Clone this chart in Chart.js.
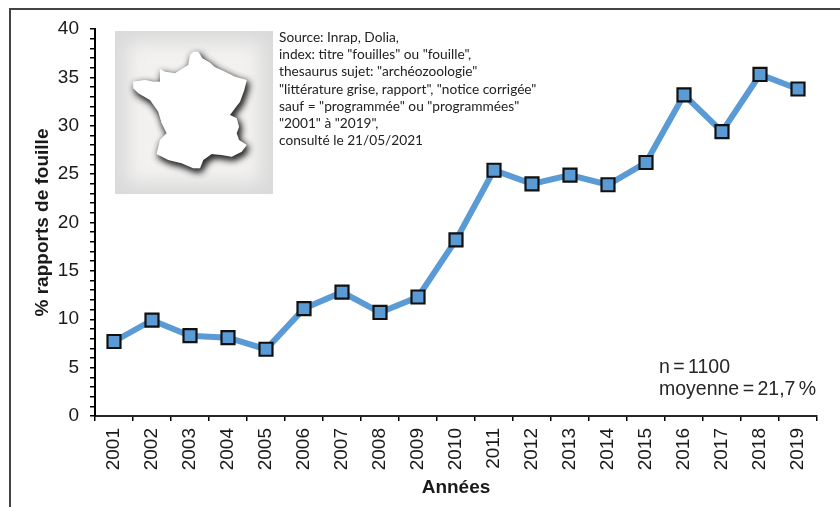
<!DOCTYPE html>
<html>
<head>
<meta charset="utf-8">
<script src="https://cdn.jsdelivr.net/npm/chart.js@4/dist/chart.umd.min.js"></script>
<style>
  html, body { margin: 0; padding: 0; background: #fff; }
  #box { position: relative; width: 840px; height: 507px; }
</style>
</head>
<body>
<div id="box"><canvas id="chart" width="840" height="507"></canvas></div>
<script>
const annees = ["2001","2002","2003","2004","2005","2006","2007","2008","2009","2010","2011","2012","2013","2014","2015","2016","2017","2018","2019"];
const rapports = [7.7, 9.9, 8.3, 8.1, 6.9, 11.1, 12.8, 10.7, 12.3, 18.2, 25.4, 24.0, 24.9, 23.9, 26.2, 33.2, 29.4, 35.3, 33.8];
const sourceLignes = [
    'Source: Inrap, Dolia,',
    'index: titre "fouilles" ou "fouille",',
    'thesaurus sujet: "archéozoologie"',
    '"littérature grise, rapport", "notice corrigée"',
    'sauf = "programmée" ou "programmées"',
    '"2001" à "2019",',
    'consulté le 21/05/2021'
];
const noteLignes = ['n = 1100', 'moyenne = 21,7 %'];

// contour de la carte, en pixels de la page
const contourFrance = [[193.3,51.7],[198.3,51.7],[202.3,58.3],[210,62.7],[215,67.3],[225,71.7],[235,76.7],[246.7,80],[244.3,90],[240,101.7],[235,108.3],[230,115],[236.7,118.3],[239,126.7],[236.7,133.3],[239,140],[246.7,145],[241.7,151.7],[231.7,156.7],[221.7,155],[211.7,154],[203.3,160],[200,168.3],[193.3,168.3],[181.7,163.3],[168.3,160],[156.7,154],[160,140],[166.7,133.3],[161.7,123.3],[158.3,111.7],[150,100],[138.3,93.3],[133.3,88.3],[133.3,81.7],[145,80],[153.3,81.7],[160,81.7],[160,69.3],[165,71.7],[175,73.3],[188.3,65],[190,55]];

const decor = {
    id: 'decor',
    beforeDraw(chart) {
        const c = chart.ctx;
        c.save();
        // cadre
        c.strokeStyle = '#444';
        c.lineWidth = 2;
        c.beginPath();
        c.moveTo(10, 507);
        c.lineTo(10, 9);
        c.lineTo(840, 9);
        c.stroke();

        // vignette
        c.fillStyle = '#dadada';
        c.fillRect(115, 31, 158, 163);
        c.save();
        c.beginPath();
        c.rect(115, 31, 158, 163);
        c.clip();
        c.filter = 'blur(9px)';
        c.fillStyle = '#f2f1f0';
        c.fillRect(127, 42, 134, 141);
        c.restore();

        // carte, ombre passee deux fois pour la foncer
        c.save();
        c.shadowColor = 'rgba(40,40,40,0.9)';
        c.shadowBlur = 7;
        c.shadowOffsetX = 2;
        c.shadowOffsetY = 3;
        c.fillStyle = '#fff';
        c.beginPath();
        contourFrance.forEach((p, i) => i ? c.lineTo(p[0], p[1]) : c.moveTo(p[0], p[1]));
        c.closePath();
        c.fill();
        c.fill();
        c.restore();

        // source
        c.fillStyle = '#222';
        c.font = '13.7px Lato';
        c.textBaseline = 'alphabetic';
        sourceLignes.forEach((t, i) => c.fillText(t, 279, 42 + i * 17.2));

        // n et moyenne
        c.fillStyle = '#262626';
        c.font = '19.5px "Liberation Sans"';
        c.wordSpacing = '-2px';
        noteLignes.forEach((t, i) => c.fillText(t, 659, 373 + i * 22));
        c.restore();
    }
};

new Chart(document.getElementById('chart'), {
    type: 'line',
    data: {
        labels: annees,
        datasets: [{
            data: rapports,
            borderColor: '#5b9bd5',
            borderWidth: 6,
            tension: 0,
            pointStyle: 'rect',
            pointRadius: 9.2,
            pointBackgroundColor: '#5b9bd5',
            pointBorderColor: '#111',
            pointBorderWidth: 2.2
        }]
    },
    options: {
        responsive: false,
        animation: false,
        layout: { padding: { top: 29, right: 23, left: 0, bottom: 0 } },
        plugins: { legend: { display: false }, tooltip: { enabled: false } },
        scales: {
            x: {
                offset: true,
                afterFit: s => { s.height = 91; },
                grid: { offset: true, drawOnChartArea: false, color: '#000', lineWidth: 1.5, tickLength: 5 },
                border: { color: '#262626', width: 2 },
                ticks: { minRotation: 90, maxRotation: 90, autoSkip: false, color: '#1a1a1a', padding: 7, font: { family: 'Liberation Sans', size: 19 } },
                title: { display: true, text: 'Années', color: '#1a1a1a', padding: { top: 0, bottom: 8 }, font: { family: 'Liberation Sans', size: 19, weight: 'bold' } }
            },
            y: {
                min: 0,
                max: 40,
                afterFit: s => { s.width = 95; },
                grid: { drawOnChartArea: false, color: '#000', lineWidth: 1.5, tickLength: 5 },
                border: { color: '#000', width: 2 },
                ticks: {
                    stepSize: 1,
                    autoSkip: false,
                    color: '#1a1a1a',
                    padding: 11,
                    font: { family: 'Liberation Sans', size: 19 },
                    callback: v => v % 5 === 0 ? v : ''
                },
                title: { display: true, text: '% rapports de fouille', color: '#1a1a1a', padding: { top: 31, bottom: 0 }, font: { family: 'Liberation Sans', size: 19, weight: 'bold' } }
            }
        }
    },
    plugins: [decor]
});
</script>
</body>
</html>
